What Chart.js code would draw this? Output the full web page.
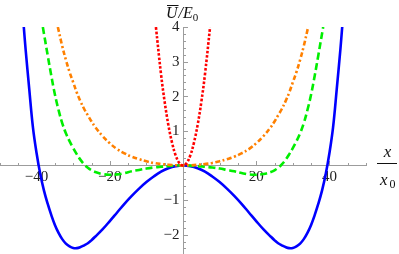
<!DOCTYPE html>
<html>
<head>
<meta charset="utf-8">
<script src="https://cdn.jsdelivr.net/npm/chart.js@4.4.1/dist/chart.umd.min.js"></script>
<style>
  html, body { margin: 0; padding: 0; background: #fff; }
  .graf { width: 399px; height: 254px; position: relative; }
</style>
</head>
<body>
<div class="graf"><canvas id="graf-01"></canvas></div>
<script>
// values (x / x0 , U / E0)
const blueX = [-43.5, -43, -42, -41, -40, -39, -38, -37, -36, -35, -34, -33, -32, -31, -30, -29, -28, -27, -26, -25, -24, -22, -20, -18, -16, -14, -12, -10, -8, -6, -4, -2, 0,
               2, 4, 6, 8, 10, 12, 14, 16, 18, 20, 22, 24, 25, 26, 27, 28, 29, 30, 31, 32, 33, 34, 35, 36, 37, 38, 39, 40, 41, 42, 43, 43.5];
const blueY = [4, 3.35, 2.2, 1.1, 0.35, -0.25, -0.72, -1.1, -1.43, -1.72, -1.95, -2.13, -2.26, -2.34, -2.385, -2.39, -2.36, -2.31, -2.25, -2.16, -2.06, -1.85, -1.61, -1.36, -1.11, -0.88, -0.67, -0.48, -0.32, -0.18, -0.08, -0.02, 0,
               -0.02, -0.08, -0.18, -0.32, -0.48, -0.67, -0.88, -1.11, -1.36, -1.61, -1.85, -2.06, -2.16, -2.25, -2.31, -2.36, -2.39, -2.385, -2.34, -2.26, -2.13, -1.95, -1.72, -1.43, -1.1, -0.72, -0.25, 0.35, 1.1, 2.2, 3.35, 4];

const greenX = [-38.3, -37, -36, -35, -34, -33, -32, -31, -30, -29, -28, -27, -26, -25, -24, -22, -20, -18, -16, -14, -12, -10, -8, -6, -4, -2, 0,
                2, 4, 6, 8, 10, 12, 14, 16, 18, 20, 22, 24, 25, 26, 27, 28, 29, 30, 31, 32, 33, 34, 35, 36, 37, 38.3];
const greenY = [4, 3.2, 2.6, 2.05, 1.6, 1.22, 0.93, 0.7, 0.5, 0.32, 0.16, 0.03, -0.07, -0.14, -0.19, -0.25, -0.27, -0.26, -0.22, -0.17, -0.13, -0.09, -0.06, -0.04, -0.02, -0.005, 0,
                -0.005, -0.02, -0.04, -0.06, -0.09, -0.13, -0.17, -0.22, -0.26, -0.27, -0.25, -0.19, -0.14, -0.07, 0.03, 0.16, 0.32, 0.5, 0.7, 0.93, 1.22, 1.6, 2.05, 2.6, 3.2, 4];

const orangeX = [-34.2, -33, -32, -31, -30, -29, -28, -27, -26, -25, -24, -22, -20, -18, -16, -14, -12, -10, -8, -6, -4, -2, 0,
                 2, 4, 6, 8, 10, 12, 14, 16, 18, 20, 22, 24, 25, 26, 27, 28, 29, 30, 31, 32, 33, 34.2];
const orangeY = [4, 3.45, 3.05, 2.7, 2.4, 2.1, 1.85, 1.63, 1.45, 1.27, 1.11, 0.85, 0.64, 0.47, 0.35, 0.25, 0.18, 0.12, 0.07, 0.04, 0.02, 0.005, 0,
                 0.005, 0.02, 0.04, 0.07, 0.12, 0.18, 0.25, 0.35, 0.47, 0.64, 0.85, 1.11, 1.27, 1.45, 1.63, 1.85, 2.1, 2.4, 2.7, 3.05, 3.45, 4];

const redX = [-7.4, -6, -5, -4, -3, -2, -1, 0, 1, 2, 3, 4, 5, 6, 7.4];
const redY = [4, 2.63, 1.83, 1.17, 0.66, 0.29, 0.07, 0, 0.07, 0.29, 0.66, 1.17, 1.83, 2.63, 4];

// axis ticks
const xTickLabels = [-40, -20, 20, 40];
const yTickLabels = [-2, -1, 1, 2, 3, 4];
const xMinorStep = 5;
const yMinorStep = 0.2;

function pts(xs, ys) {
    return xs.map((x, i) => ({ x: x, y: ys[i] }));
}

function fmt(v) {
    return v < 0 ? '\u2212' + Math.abs(v) : String(v);
}

// mathematica style axes crossing at the origin
const axesAtZero = {
    id: 'axesAtZero',
    beforeDatasetsDraw(chart) {
        const { ctx, chartArea } = chart;
        const xs = chart.scales.x, ys = chart.scales.y;
        const x0 = Math.round(xs.getPixelForValue(0)) + 0.5;
        const y0 = Math.round(ys.getPixelForValue(0)) + 0.5;

        ctx.save();
        ctx.strokeStyle = '#9c9c9c';
        ctx.lineWidth = 1;
        ctx.beginPath();
        ctx.moveTo(chartArea.left, y0);
        ctx.lineTo(chartArea.right + 1, y0);
        ctx.moveTo(x0, chartArea.top);
        ctx.lineTo(x0, chartArea.bottom);

        // x ticks (pointing up)
        for (let k = Math.ceil(xs.min / xMinorStep); k <= Math.floor(xs.max / xMinorStep); k++) {
            const v = k * xMinorStep;
            if (v === 0) continue;
            const px = Math.round(xs.getPixelForValue(v)) + 0.5;
            const len = xTickLabels.includes(v) ? 4.5 : 2.5;
            ctx.moveTo(px, y0);
            ctx.lineTo(px, y0 - len);
        }
        // y ticks (pointing right)
        for (let k = Math.ceil(ys.min / yMinorStep); k <= Math.floor(ys.max / yMinorStep + 1e-6); k++) {
            const v = Math.round(k * yMinorStep * 10) / 10;
            if (v === 0) continue;
            const py = Math.round(ys.getPixelForValue(v)) + 0.5;
            const len = yTickLabels.includes(v) ? 4.5 : 2.5;
            ctx.moveTo(x0, py);
            ctx.lineTo(x0 + len, py);
        }
        ctx.stroke();

        ctx.fillStyle = '#222';
        ctx.font = '15px "Liberation Serif", "DejaVu Serif", serif';
        ctx.textAlign = 'center';
        ctx.textBaseline = 'top';
        xTickLabels.forEach(v => {
            ctx.fillText(fmt(v), xs.getPixelForValue(v), y0 + 4);
        });
        ctx.textAlign = 'right';
        ctx.textBaseline = 'middle';
        yTickLabels.forEach(v => {
            ctx.fillText(fmt(v), x0 - 4, ys.getPixelForValue(v) + 0.5);
        });
        ctx.restore();
    },
    afterDraw(chart) {
        const ctx = chart.ctx;
        const serif = '"Liberation Serif", "DejaVu Serif", serif';
        ctx.save();
        ctx.fillStyle = '#111';
        ctx.strokeStyle = '#111';
        ctx.textBaseline = 'alphabetic';
        ctx.textAlign = 'left';

        // y title: U-bar / E0
        let tx = 166;
        ctx.font = 'italic 16px ' + serif;
        const wU = ctx.measureText('U').width;
        ctx.fillText('U', tx, 18);
        ctx.lineWidth = 1;
        ctx.beginPath();
        ctx.moveTo(tx + 1, 5.5);
        ctx.lineTo(tx + wU + 1, 5.5);
        ctx.stroke();
        tx += wU + 1;
        ctx.fillText('/E', tx, 18);
        tx += ctx.measureText('/E').width;
        ctx.font = '11px ' + serif;
        ctx.fillText('0', tx, 21);

        // x title: x / x0
        ctx.font = 'italic 17px ' + serif;
        ctx.textAlign = 'center';
        ctx.fillText('x', 387.5, 157);
        ctx.beginPath();
        ctx.moveTo(377, 163.5);
        ctx.lineTo(397, 163.5);
        ctx.stroke();
        ctx.textAlign = 'left';
        ctx.fillText('x', 380, 185);
        ctx.font = '12px ' + serif;
        ctx.fillText('0', 389.5, 188);
        ctx.restore();
    }
};

const ctx = document.getElementById('graf-01');

let myChart = new Chart(ctx, {
    type: 'line',
    data: {
        datasets: [{
            label: 'red',
            data: pts(redX, redY),
            borderColor: '#ff0000',
            borderWidth: 2.6,
            borderDash: [2.6, 1.8]
        }, {
            label: 'orange',
            data: pts(orangeX, orangeY),
            borderColor: '#ff8000',
            borderWidth: 2.6,
            borderDash: [5, 2.5, 2, 2.5]
        }, {
            label: 'green',
            data: pts(greenX, greenY),
            borderColor: '#00ee00',
            borderWidth: 2.6,
            borderDash: [7, 3.5]
        }, {
            label: 'blue',
            data: pts(blueX, blueY),
            borderColor: '#0000ff',
            borderWidth: 2.6
        }]
    },
    options: {
        responsive: true,
        maintainAspectRatio: false,
        animation: false,
        layout: {
            padding: { left: 0, right: 33, top: 27, bottom: 0 }
        },
        elements: {
            point: { radius: 0 },
            line: { tension: 0.4, fill: false }
        },
        plugins: {
            legend: { display: false },
            tooltip: { enabled: false }
        },
        scales: {
            x: {
                type: 'linear',
                min: -50,
                max: 50,
                display: false
            },
            y: {
                type: 'linear',
                min: -2.56,
                max: 4,
                display: false
            }
        }
    },
    plugins: [axesAtZero]
});
</script>
</body>
</html>
